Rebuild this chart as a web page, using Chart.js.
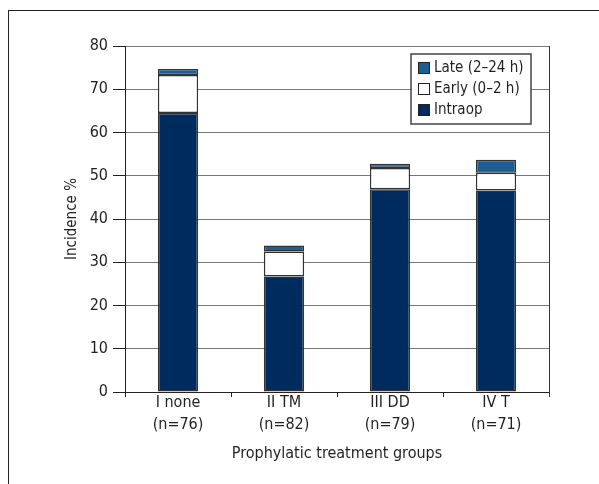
<!DOCTYPE html>
<html>
<head>
<meta charset="utf-8">
<script src="https://cdn.jsdelivr.net/npm/chart.js@4.4.0/dist/chart.umd.min.js"></script>
<style>
  html, body { margin: 0; padding: 0; background: #fff; }
  #wrap { position: relative; width: 599px; height: 484px; overflow: hidden; }
  #frame { position: absolute; left: 8px; top: 10px; width: 700px; height: 600px;
           border-left: 1px solid #222; border-top: 1px solid #222; }
  canvas { position: absolute; left: 0; top: 0; }
</style>
</head>
<body>
<div id="wrap">
  <div id="frame"></div>
  <canvas id="chart" width="599" height="484"></canvas>
</div>
<script>
const categories = [['I none', '(n=76)'], ['II TM', '(n=82)'], ['III DD', '(n=79)'], ['IV T', '(n=71)']];
const intraop = [64.5, 26.7, 46.9, 46.6];
const early = [8.8, 5.8, 4.9, 4.1];
const late = [1.4, 1.4, 1.0, 3.0];
const yTicks = [0, 10, 20, 30, 40, 50, 60, 70, 80];

const FONT = '"Liberation Sans Narrow", "DejaVu Sans Condensed", sans-serif';
const TEXT = '#231f20';

// legend drawn inside the plot, on a white box over the grid
const insideLegend = {
    id: 'insideLegend',
    afterDraw(chart) {
        const ctx = chart.ctx;
        const x = 411, y = 54, w = 120, h = 70;
        ctx.save();
        ctx.fillStyle = '#fff';
        ctx.fillRect(x, y, w, h);
        ctx.strokeStyle = '#444';
        ctx.lineWidth = 1.5;
        ctx.strokeRect(x, y, w, h);
        const items = chart.data.datasets.slice().reverse();
        ctx.font = '15px ' + FONT;
        ctx.textBaseline = 'middle';
        items.forEach((ds, i) => {
            const cy = y + 14 + i * 21;
            ctx.fillStyle = ds.backgroundColor;
            ctx.fillRect(x + 7, cy - 6, 12, 12);
            ctx.strokeStyle = '#222';
            ctx.lineWidth = 1;
            ctx.strokeRect(x + 7.5, cy - 5.5, 11, 11);
            ctx.fillStyle = TEXT;
            ctx.fillText(ds.label, x + 23, cy);
        });
        ctx.restore();
    }
};

// right edge of the plot frame
const rightEdge = {
    id: 'rightEdge',
    afterDraw(chart) {
        const a = chart.chartArea;
        const ctx = chart.ctx;
        ctx.save();
        ctx.strokeStyle = '#333';
        ctx.lineWidth = 1;
        ctx.beginPath();
        ctx.moveTo(a.right + 0.5, a.top);
        ctx.lineTo(a.right + 0.5, a.bottom + 5);
        ctx.stroke();
        ctx.restore();
    }
};

new Chart(document.getElementById('chart'), {
    type: 'bar',
    data: {
        labels: categories,
        datasets: [
            { label: 'Intraop', data: intraop, backgroundColor: '#002b5e' },
            { label: 'Early (0–2 h)', data: early, backgroundColor: '#ffffff' },
            { label: 'Late (2–24 h)', data: late, backgroundColor: '#1d5e94' }
        ]
    },
    options: {
        responsive: false,
        animation: false,
        devicePixelRatio: 1,
        layout: { padding: { left: 50, right: 50, top: 46, bottom: 12 } },
        datasets: {
            bar: {
                borderColor: '#333',
                borderWidth: 1.5,
                borderSkipped: false,
                barPercentage: 0.38,
                categoryPercentage: 1
            }
        },
        plugins: {
            legend: { display: false },
            tooltip: { enabled: false }
        },
        scales: {
            x: {
                stacked: true,
                afterFit: s => { s.height = 80; },
                grid: { drawOnChartArea: false, tickLength: 5, tickColor: '#222' },
                border: { color: '#222', width: 1 },
                ticks: { color: TEXT, font: { family: FONT, size: 16, lineHeight: 1.35 }, padding: -5 },
                title: {
                    display: true,
                    text: 'Prophylatic treatment groups',
                    color: TEXT,
                    font: { family: FONT, size: 16 },
                    padding: { top: 4, bottom: 9 }
                }
            },
            y: {
                stacked: true,
                min: 0,
                max: 80,
                afterFit: s => { s.width = 75; },
                afterBuildTicks: s => { s.ticks = yTicks.map(v => ({ value: v })); },
                grid: { color: '#777', tickLength: 12, tickColor: '#222' },
                border: { color: '#222', width: 1 },
                ticks: { color: TEXT, font: { family: FONT, size: 16 }, padding: 5 },
                title: {
                    display: true,
                    text: 'Incidence %',
                    color: TEXT,
                    font: { family: FONT, size: 15 },
                    padding: { top: 13, bottom: 0 }
                }
            }
        }
    },
    plugins: [insideLegend, rightEdge]
});
</script>
</body>
</html>
